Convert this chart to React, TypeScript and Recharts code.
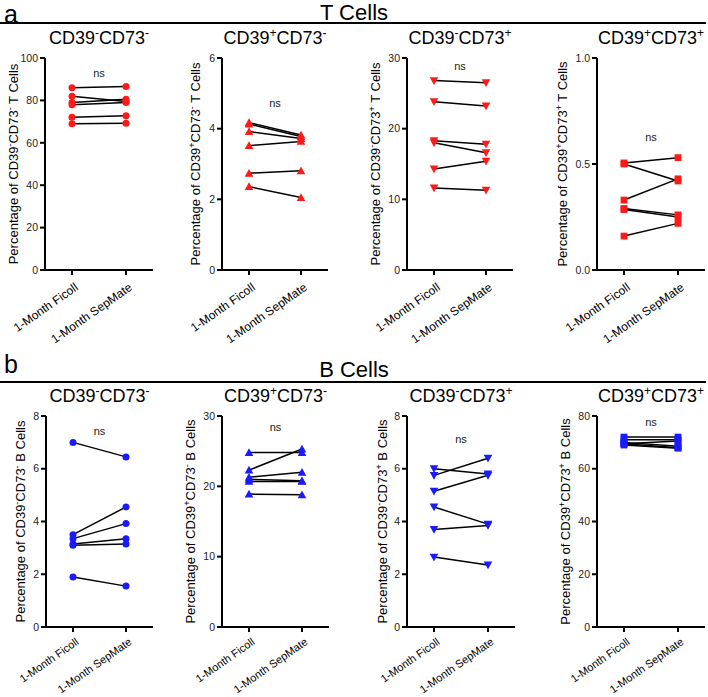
import React from "react";
import { LineChart, Line, XAxis, YAxis, ReferenceLine } from "recharts";

const GROUPS = ["1-Month Ficoll", "1-Month SepMate"];

// T cells, six donors each
const tNegNegFicoll = [86, 82, 79, 78, 72, 69];
const tNegNegSepMate = [86.5, 79.5, 80.5, 79, 72.8, 69.2];
const tPosNegFicoll = [4.17, 4.13, 3.92, 3.52, 2.74, 2.36];
const tPosNegSepMate = [3.82, 3.78, 3.72, 3.64, 2.81, 2.05];
const tNegPosFicoll = [26.8, 23.8, 18.3, 18.0, 14.3, 11.6];
const tNegPosSepMate = [26.5, 23.2, 17.8, 16.6, 15.4, 11.3];
const tPosPosFicoll = [0.505, 0.5, 0.33, 0.29, 0.285, 0.16];
const tPosPosSepMate = [0.53, 0.42, 0.43, 0.26, 0.25, 0.22];

// B cells
const bNegNegFicoll = [7.0, 3.5, 3.35, 3.15, 3.1, 1.9];
const bNegNegSepMate = [6.45, 4.55, 3.92, 3.35, 3.15, 1.55];
const bPosNegFicoll = [24.8, 22.3, 21.3, 21.0, 20.7, 18.9];
const bPosNegSepMate = [24.8, 25.3, 22.0, 20.8, 20.7, 18.8];
const bNegPosFicoll = [6.0, 5.75, 5.15, 4.55, 3.7, 2.65];
const bNegPosSepMate = [5.8, 6.4, 5.75, 3.9, 3.85, 2.35];
const bPosPosFicoll = [72, 71, 70, 69.5, 69.5, 69];
const bPosPosSepMate = [72, 71, 68.5, 70.5, 68, 67.8];

const ticks100 = [0, 20, 40, 60, 80, 100];
const ticks6 = [0, 2, 4, 6];
const ticks30 = [0, 10, 20, 30];
const ticks1 = [0, 0.5, 1.0];
const ticks8 = [0, 2, 4, 6, 8];
const ticks80 = [0, 20, 40, 60, 80];

const FONT = '"Liberation Sans", Arial, Helvetica, sans-serif';
const RED = "#ff1a1a";
const BLUE = "#1a1aff";

type Shape = "circle" | "up" | "down" | "square";

interface PanelDef {
  signs: [string, string];
  cell: string;
  ficoll: number[];
  sepmate: number[];
  ticks: number[];
  decimals: number;
  ns: number;
  shape: Shape;
  color: string;
  left: number;
  top: number;
  plotTop: number;
  plotH: number;
  xh: number;
  catFont: number;
  width: number;
  labelDist: number;
}

function Marker({ cx, cy, shape, color }: any) {
  if (cx == null || cy == null) return null;
  if (shape === "circle") return <circle cx={cx} cy={cy} r={3.5} fill={color} />;
  if (shape === "square") return <rect x={cx - 3.4} y={cy - 3.4} width={6.8} height={6.8} fill={color} />;
  const s = 4.3;
  if (shape === "up")
    return <polygon points={`${cx},${cy - s} ${cx + s},${cy + s * 0.8} ${cx - s},${cy + s * 0.8}`} fill={color} />;
  return <polygon points={`${cx},${cy + s} ${cx + s},${cy - s * 0.8} ${cx - s},${cy - s * 0.8}`} fill={color} />;
}

function CatTick({ x, y, payload, size }: any) {
  const fs = size ?? 12;
  return (
    <text
      x={0}
      y={0}
      transform={`translate(${x + 2},${y + (fs > 11.5 ? 5 : 3)}) rotate(-35)`}
      textAnchor="end"
      fontSize={fs}
      fontFamily={FONT}
      fill="#000"
      dy="0.72em"
    >
      {payload.value}
    </text>
  );
}

function YLabel({ viewBox, signs, cell, dist }: any) {
  const cx = viewBox.x + viewBox.width - dist;
  const cy = viewBox.y + viewBox.height / 2;
  return (
    <text
      x={cx}
      y={cy}
      transform={`rotate(-90 ${cx} ${cy})`}
      textAnchor="middle"
      dy="0.35em"
      fontSize={13}
      fontFamily={FONT}
      fill="#000"
    >
      <tspan>Percentage of CD39</tspan>
      <tspan dy={-5} fontSize={9}>{signs[0]}</tspan>
      <tspan dy={5}>CD73</tspan>
      <tspan dy={-5} fontSize={9}>{signs[1]}</tspan>
      <tspan dy={5}>{` ${cell} Cells`}</tspan>
    </text>
  );
}

function Panel({ p }: { p: PanelDef }) {
  const data = GROUPS.map((g, gi) => {
    const row: any = { group: g };
    p.ficoll.forEach((v, i) => {
      row["s" + i] = gi === 0 ? v : p.sepmate[i];
    });
    return row;
  });
  const keys = p.ficoll.map((_, i) => "s" + i);
  const max = p.ticks[p.ticks.length - 1];
  const height = p.plotTop + p.plotH + p.xh;
  return (
    <div style={{ position: "absolute", left: p.left, top: p.top }}>
      <div
        style={{
          position: "absolute",
          left: 45,
          width: p.width - 47,
          top: p.plotTop - 30,
          textAlign: "center",
          fontFamily: FONT,
          fontSize: 18,
          lineHeight: "20px",
          whiteSpace: "nowrap",
        }}
      >
        CD39<sup style={{ fontSize: 12, lineHeight: 0 }}>{p.signs[0]}</sup>CD73
        <sup style={{ fontSize: 12, lineHeight: 0 }}>{p.signs[1]}</sup>
      </div>
      <LineChart
        width={p.width}
        height={height}
        data={data}
        margin={{ top: p.plotTop, right: 2, bottom: 0, left: 0 }}
      >
        <XAxis
          dataKey="group"
          interval={0}
          padding={{ left: 27, right: 27 }}
          axisLine={{ stroke: "#000", strokeWidth: 2 }}
          tickLine={{ stroke: "#000", strokeWidth: 2 }}
          tickSize={5}
          height={p.xh}
          tick={<CatTick size={p.catFont} />}
        />
        <YAxis
          type="number"
          domain={[0, max]}
          ticks={p.ticks}
          width={45}
          tickSize={5}
          tickMargin={2}
          axisLine={{ stroke: "#000", strokeWidth: 2 }}
          tickLine={{ stroke: "#000", strokeWidth: 2 }}
          tick={{ fontSize: 10.5, fill: "#222", fontFamily: FONT }}
          tickFormatter={(v: number) => v.toFixed(p.decimals)}
          label={{
            content: (lp: any) => <YLabel viewBox={lp.viewBox} signs={p.signs} cell={p.cell} dist={p.labelDist} />,
          }}
        />
        <ReferenceLine
          segment={[
            { x: GROUPS[0], y: p.ns },
            { x: GROUPS[1], y: p.ns },
          ]}
          stroke="none"
          label={{ value: "ns", position: "center", fontSize: 11, fill: "#222", fontFamily: FONT }}
        />
        {keys.map((k) => (
          <Line
            key={"m" + k}
            dataKey={k}
            stroke="transparent"
            isAnimationActive={false}
            dot={(dp: any) => <Marker key={dp.key ?? dp.index} cx={dp.cx} cy={dp.cy} shape={p.shape} color={p.color} />}
            activeDot={false}
          />
        ))}
        {keys.map((k) => (
          <Line
            key={"l" + k}
            dataKey={k}
            stroke="#000"
            strokeWidth={1.5}
            dot={false}
            activeDot={false}
            isAnimationActive={false}
          />
        ))}
      </LineChart>
    </div>
  );
}

const topRow = 50;
const botRow = 410;

const panels: PanelDef[] = [
  { signs: ["-", "-"], cell: "T", ficoll: tNegNegFicoll, sepmate: tNegNegSepMate, ticks: ticks100, decimals: 0, ns: 92.9, shape: "circle", color: RED, left: 0, top: topRow, plotTop: 8, plotH: 212, xh: 78, catFont: 12, width: 155, labelDist: 32 },
  { signs: ["+", "-"], cell: "T", ficoll: tPosNegFicoll, sepmate: tPosNegSepMate, ticks: ticks6, decimals: 0, ns: 4.73, shape: "up", color: RED, left: 177, top: topRow, plotTop: 8, plotH: 212, xh: 78, catFont: 12, width: 153, labelDist: 27 },
  { signs: ["-", "+"], cell: "T", ficoll: tNegPosFicoll, sepmate: tNegPosSepMate, ticks: ticks30, decimals: 0, ns: 28.9, shape: "down", color: RED, left: 362, top: topRow, plotTop: 8, plotH: 212, xh: 78, catFont: 12, width: 153, labelDist: 32 },
  { signs: ["+", "+"], cell: "T", ficoll: tPosPosFicoll, sepmate: tPosPosSepMate, ticks: ticks1, decimals: 1, ns: 0.627, shape: "square", color: RED, left: 552, top: topRow, plotTop: 8, plotH: 212, xh: 78, catFont: 12, width: 155, labelDist: 35 },
  { signs: ["-", "-"], cell: "B", ficoll: bNegNegFicoll, sepmate: bNegNegSepMate, ticks: ticks8, decimals: 0, ns: 7.43, shape: "circle", color: BLUE, left: 1, top: botRow, plotTop: 6, plotH: 211, xh: 70, catFont: 11, width: 154, labelDist: 26 },
  { signs: ["+", "-"], cell: "B", ficoll: bPosNegFicoll, sepmate: bPosNegSepMate, ticks: ticks30, decimals: 0, ns: 28.4, shape: "up", color: BLUE, left: 177, top: botRow, plotTop: 6, plotH: 211, xh: 70, catFont: 11, width: 154, labelDist: 32 },
  { signs: ["-", "+"], cell: "B", ficoll: bNegPosFicoll, sepmate: bNegPosSepMate, ticks: ticks8, decimals: 0, ns: 7.13, shape: "down", color: BLUE, left: 362, top: botRow, plotTop: 6, plotH: 211, xh: 70, catFont: 11, width: 155, labelDist: 25 },
  { signs: ["+", "+"], cell: "B", ficoll: bPosPosFicoll, sepmate: bPosPosSepMate, ticks: ticks80, decimals: 0, ns: 77.7, shape: "square", color: BLUE, left: 552, top: botRow, plotTop: 6, plotH: 211, xh: 70, catFont: 11, width: 155, labelDist: 32 },
];

function Header({ letter, title, letterTop, titleTop, lineTop }: { letter: string; title: string; letterTop: number; titleTop: number; lineTop: number }) {
  return (
    <>
      <div style={{ position: "absolute", left: 4, top: letterTop, fontFamily: FONT, fontSize: 25, lineHeight: "25px" }}>{letter}</div>
      <div
        style={{
          position: "absolute",
          left: 254,
          width: 200,
          top: titleTop,
          textAlign: "center",
          fontFamily: FONT,
          fontSize: 22,
          lineHeight: "22px",
        }}
      >
        {title}
      </div>
      <div style={{ position: "absolute", left: 0, width: 706, top: lineTop, height: 2, background: "#000" }} />
    </>
  );
}

export default function App() {
  return (
    <div style={{ position: "absolute", left: 0, top: 0, width: 708, height: 697, background: "#fff", overflow: "hidden" }}>
      <Header letter="a" title="T Cells" letterTop={1.5} titleTop={1.5} lineTop={21.5} />
      <Header letter="b" title="B Cells" letterTop={352} titleTop={358.5} lineTop={380.5} />
      {panels.map((p, i) => (
        <Panel key={i} p={p} />
      ))}
    </div>
  );
}
